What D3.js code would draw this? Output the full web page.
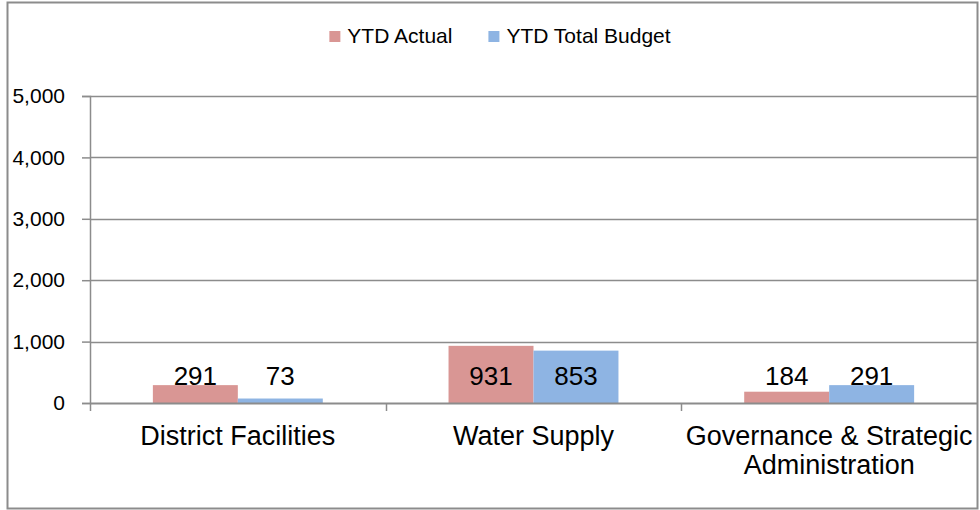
<!DOCTYPE html>
<html>
<head>
<meta charset="utf-8">
<script src="https://cdn.jsdelivr.net/npm/d3@7"></script>
<style>
  body { margin: 0; background: #fff; }
  svg { display: block; font-family: "Liberation Sans", Arial, sans-serif; }
</style>
</head>
<body>
<svg id="chart" width="980" height="510"></svg>
<script>
const categories = ["District Facilities", "Water Supply", "Governance & Strategic Administration"];
const seriesNames = ["YTD Actual", "YTD Total Budget"];
const ytdActual = [291, 931, 184];
const ytdBudget = [73, 853, 291];
const yTicks = [0, 1000, 2000, 3000, 4000, 5000];
const colors = ["#d99694", "#8eb4e3"];

const width = 980, height = 510;
const margin = { top: 96, right: 3, bottom: 107, left: 90 };

const svg = d3.select("#chart");

// outer frame
svg.append("rect")
  .attr("x", 7.5).attr("y", 2.5)
  .attr("width", 970).attr("height", 506)
  .attr("fill", "none").attr("stroke", "#8c8c8c").attr("stroke-width", 2);

const x = d3.scaleBand()
  .domain(categories)
  .range([margin.left, width - margin.right])
  .paddingInner(0).paddingOuter(0);

const x1 = d3.scaleBand()
  .domain(seriesNames)
  .range([0, x.bandwidth()])
  .paddingInner(0).paddingOuter(0.74);

const y = d3.scaleLinear()
  .domain([0, 5000])
  .range([height - margin.bottom, margin.top]);

// gridlines
svg.append("g")
  .selectAll("line")
  .data(yTicks.slice(1))
  .join("line")
  .attr("x1", margin.left).attr("x2", width - margin.right)
  .attr("y1", d => Math.round(y(d)) + 0.5).attr("y2", d => Math.round(y(d)) + 0.5)
  .attr("stroke", "#8c8c8c").attr("stroke-width", 1.5);

// y axis
const yAxis = svg.append("g")
  .attr("transform", `translate(${margin.left},0)`)
  .call(d3.axisLeft(y).tickValues(yTicks).tickSize(8).tickPadding(17)
    .tickFormat(d3.format(",")));
yAxis.selectAll("path, line").attr("stroke", "#8c8c8c").attr("stroke-width", 1.5);
yAxis.selectAll("text")
  .attr("font-size", 21)
  .attr("fill", "#000")
  .attr("font-family", "'Liberation Sans', Arial, sans-serif");

// bars
const rows = categories.map((c, i) => ({ cat: c, values: [ytdActual[i], ytdBudget[i]] }));

const groups = svg.append("g")
  .selectAll("g")
  .data(rows)
  .join("g")
  .attr("transform", d => `translate(${x(d.cat)},0)`);

groups.selectAll("rect")
  .data(d => d.values.map((v, j) => ({ key: seriesNames[j], v: v, j: j })))
  .join("rect")
  .attr("x", d => x1(d.key))
  .attr("y", d => y(d.v))
  .attr("width", x1.bandwidth())
  .attr("height", d => y(0) - y(d.v))
  .attr("fill", d => colors[d.j]);

// data labels
groups.selectAll("text")
  .data(d => d.values.map((v, j) => ({ key: seriesNames[j], v: v })))
  .join("text")
  .attr("x", d => x1(d.key) + x1.bandwidth() / 2)
  .attr("y", y(0) - 27)
  .attr("dy", "0.35em")
  .attr("text-anchor", "middle")
  .attr("font-size", 26)
  .attr("fill", "#000")
  .text(d => d3.format(",")(d.v));

// x axis
const xAxis = svg.append("g")
  .attr("transform", `translate(0,${y(0)})`)
  .call(d3.axisBottom(x).tickSize(0).tickFormat(""));
xAxis.select("path").attr("stroke", "#8c8c8c").attr("stroke-width", 2);

// category tick marks at band boundaries
svg.append("g")
  .selectAll("line")
  .data(categories)
  .join("line")
  .attr("x1", d => Math.round(x(d)) + 0.5).attr("x2", d => Math.round(x(d)) + 0.5)
  .attr("y1", y(0)).attr("y2", y(0) + 8)
  .attr("stroke", "#8c8c8c").attr("stroke-width", 1.5);

// category labels with wrapping
const catLabels = svg.append("g")
  .selectAll("text")
  .data(categories)
  .join("text")
  .attr("x", d => x(d) + x.bandwidth() / 2)
  .attr("y", y(0) + 42)
  .attr("text-anchor", "middle")
  .attr("font-size", 27)
  .attr("fill", "#000");

catLabels.each(function (d) {
  const t = d3.select(this);
  const words = d.split(" ");
  let line = [];
  let tspan = t.append("tspan").attr("x", t.attr("x")).attr("dy", 0);
  words.forEach(w => {
    line.push(w);
    tspan.text(line.join(" "));
    if (tspan.node().getComputedTextLength() > x.bandwidth() + 8 && line.length > 1) {
      line.pop();
      tspan.text(line.join(" "));
      line = [w];
      tspan = t.append("tspan").attr("x", t.attr("x")).attr("dy", 29).text(w);
    }
  });
});

// legend
const legend = svg.append("g");
let lx = 0;
seriesNames.forEach((s, i) => {
  const item = legend.append("g").attr("transform", `translate(${lx},0)`);
  item.append("rect")
    .attr("x", 0).attr("y", -5)
    .attr("width", 11).attr("height", 11)
    .attr("fill", colors[i]);
  const txt = item.append("text")
    .attr("x", 18).attr("y", 0).attr("dy", "0.35em")
    .attr("font-size", 21).attr("fill", "#000")
    .text(s);
  lx += 18 + txt.node().getComputedTextLength() + 36;
});
const legendWidth = lx - 36;
legend.attr("transform", `translate(${500 - legendWidth / 2},36)`);
</script>
</body>
</html>
